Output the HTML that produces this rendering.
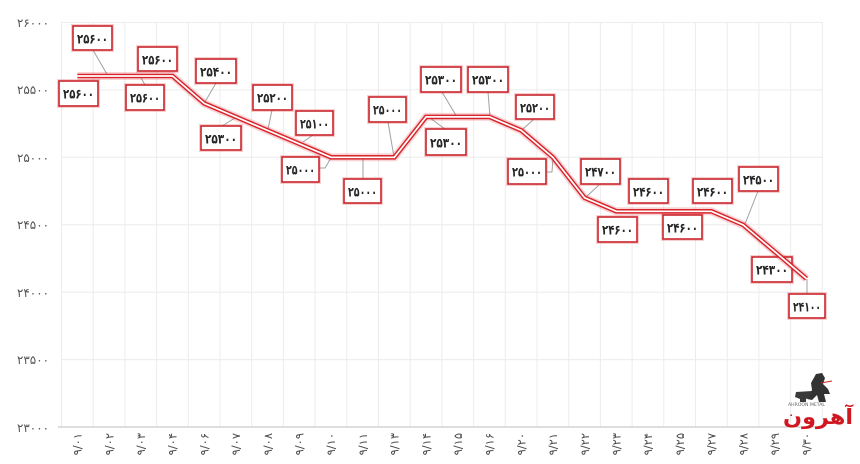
<!DOCTYPE html>
<html><head><meta charset="utf-8">
<style>
html,body{margin:0;padding:0;background:#fff;}
svg{display:block;}
.yl{font-family:"DejaVu Sans","Liberation Sans",sans-serif;font-size:12px;fill:#555;}
.xl{font-family:"DejaVu Sans","Liberation Sans",sans-serif;font-size:11.5px;fill:#4a4a4a;}
.bt{font-family:"DejaVu Sans","Liberation Sans",sans-serif;font-size:13.5px;font-weight:bold;fill:#262626;}
.bx{fill:#fff;stroke:#c8262c;stroke-width:1.6;}
.bg{fill:none;stroke:#e04048;stroke-opacity:0.25;stroke-width:4;}
.ld{stroke:#a0a0a0;stroke-width:1;fill:none;}
</style></head>
<body>
<svg width="860" height="464" viewBox="0 0 860 464" xmlns="http://www.w3.org/2000/svg">
<g stroke="#ececec" stroke-width="1">
<line x1="61.5" y1="22.5" x2="822.5" y2="22.5"/>
<line x1="61.5" y1="89.9" x2="822.5" y2="89.9"/>
<line x1="61.5" y1="157.3" x2="822.5" y2="157.3"/>
<line x1="61.5" y1="224.8" x2="822.5" y2="224.8"/>
<line x1="61.5" y1="292.2" x2="822.5" y2="292.2"/>
<line x1="61.5" y1="359.6" x2="822.5" y2="359.6"/>
<line x1="61.5" y1="22" x2="61.5" y2="427"/>
<line x1="93.2" y1="22" x2="93.2" y2="427"/>
<line x1="124.9" y1="22" x2="124.9" y2="427"/>
<line x1="156.6" y1="22" x2="156.6" y2="427"/>
<line x1="188.3" y1="22" x2="188.3" y2="427"/>
<line x1="220" y1="22" x2="220" y2="427"/>
<line x1="251.7" y1="22" x2="251.7" y2="427"/>
<line x1="283.4" y1="22" x2="283.4" y2="427"/>
<line x1="315.1" y1="22" x2="315.1" y2="427"/>
<line x1="346.8" y1="22" x2="346.8" y2="427"/>
<line x1="378.5" y1="22" x2="378.5" y2="427"/>
<line x1="410.2" y1="22" x2="410.2" y2="427"/>
<line x1="441.9" y1="22" x2="441.9" y2="427"/>
<line x1="473.6" y1="22" x2="473.6" y2="427"/>
<line x1="505.3" y1="22" x2="505.3" y2="427"/>
<line x1="537" y1="22" x2="537" y2="427"/>
<line x1="568.7" y1="22" x2="568.7" y2="427"/>
<line x1="600.4" y1="22" x2="600.4" y2="427"/>
<line x1="632.1" y1="22" x2="632.1" y2="427"/>
<line x1="663.8" y1="22" x2="663.8" y2="427"/>
<line x1="695.5" y1="22" x2="695.5" y2="427"/>
<line x1="727.2" y1="22" x2="727.2" y2="427"/>
<line x1="758.9" y1="22" x2="758.9" y2="427"/>
<line x1="790.6" y1="22" x2="790.6" y2="427"/>
<line x1="822.3" y1="22" x2="822.3" y2="427"/>
</g>
<line x1="58" y1="427" x2="822.5" y2="427" stroke="#d4d4d4" stroke-width="1.5"/>

<g class="yl" text-anchor="end">
<text x="49" y="27" textLength="32" lengthAdjust="spacingAndGlyphs">۲۶۰۰۰</text>
<text x="49" y="94" textLength="32" lengthAdjust="spacingAndGlyphs">۲۵۵۰۰</text>
<text x="49" y="162" textLength="32" lengthAdjust="spacingAndGlyphs">۲۵۰۰۰</text>
<text x="49" y="229" textLength="32" lengthAdjust="spacingAndGlyphs">۲۴۵۰۰</text>
<text x="49" y="297" textLength="32" lengthAdjust="spacingAndGlyphs">۲۴۰۰۰</text>
<text x="49" y="364" textLength="32" lengthAdjust="spacingAndGlyphs">۲۳۵۰۰</text>
<text x="49" y="432" textLength="32" lengthAdjust="spacingAndGlyphs">۲۳۰۰۰</text>
</g>

<g class="xl" text-anchor="end">
<text transform="translate(81.6,433) rotate(-90)">۹/۰۱</text>
<text transform="translate(113.3,433) rotate(-90)">۹/۰۲</text>
<text transform="translate(145,433) rotate(-90)">۹/۰۳</text>
<text transform="translate(176.7,433) rotate(-90)">۹/۰۴</text>
<text transform="translate(208.4,433) rotate(-90)">۹/۰۶</text>
<text transform="translate(240.1,433) rotate(-90)">۹/۰۷</text>
<text transform="translate(271.8,433) rotate(-90)">۹/۰۸</text>
<text transform="translate(303.5,433) rotate(-90)">۹/۰۹</text>
<text transform="translate(335.2,433) rotate(-90)">۹/۱۰</text>
<text transform="translate(366.9,433) rotate(-90)">۹/۱۱</text>
<text transform="translate(398.6,433) rotate(-90)">۹/۱۳</text>
<text transform="translate(430.3,433) rotate(-90)">۹/۱۴</text>
<text transform="translate(462,433) rotate(-90)">۹/۱۵</text>
<text transform="translate(493.7,433) rotate(-90)">۹/۱۶</text>
<text transform="translate(525.4,433) rotate(-90)">۹/۲۰</text>
<text transform="translate(557.1,433) rotate(-90)">۹/۲۱</text>
<text transform="translate(588.8,433) rotate(-90)">۹/۲۲</text>
<text transform="translate(620.5,433) rotate(-90)">۹/۲۳</text>
<text transform="translate(652.2,433) rotate(-90)">۹/۲۴</text>
<text transform="translate(683.9,433) rotate(-90)">۹/۲۵</text>
<text transform="translate(715.6,433) rotate(-90)">۹/۲۷</text>
<text transform="translate(747.3,433) rotate(-90)">۹/۲۸</text>
<text transform="translate(779,433) rotate(-90)">۹/۲۹</text>
<text transform="translate(810.7,433) rotate(-90)">۹/۳۰</text>
</g>

<g class="ld">
<line x1="93" y1="50" x2="108" y2="76"/>
<line x1="140" y1="76" x2="145" y2="85"/>
<line x1="205" y1="102" x2="216" y2="83"/>
<line x1="222" y1="126" x2="235" y2="118"/>
<line x1="268" y1="129" x2="272" y2="110"/>
<line x1="303" y1="142" x2="313" y2="135"/>
<polyline points="319,168 325,168 331,158"/>
<line x1="363" y1="158" x2="363" y2="179"/>
<line x1="388" y1="122" x2="394" y2="157"/>
<line x1="442" y1="92" x2="457" y2="117"/>
<line x1="430" y1="118" x2="445" y2="129"/>
<line x1="488" y1="92" x2="490" y2="117"/>
<line x1="534" y1="119" x2="522" y2="130"/>
<polyline points="546,172 552,172 553,158"/>
<line x1="599" y1="185" x2="586" y2="197"/>
<line x1="758" y1="191" x2="745" y2="224"/>
<line x1="807" y1="279" x2="807" y2="294"/>
</g>

<g>
<rect class="bg" x="73" y="26" width="39" height="24"/><rect class="bx" x="73" y="26" width="39" height="24"/><text class="bt" x="77" y="43.5" textLength="31" lengthAdjust="spacingAndGlyphs">۲۵۶۰۰</text>
<rect class="bg" x="59" y="81" width="39" height="25"/><rect class="bx" x="59" y="81" width="39" height="25"/><text class="bt" x="63" y="98.5" textLength="31" lengthAdjust="spacingAndGlyphs">۲۵۶۰۰</text>
<rect class="bg" x="138" y="47" width="39" height="24"/><rect class="bx" x="138" y="47" width="39" height="24"/><text class="bt" x="142" y="64.5" textLength="31" lengthAdjust="spacingAndGlyphs">۲۵۶۰۰</text>
<rect class="bg" x="126" y="85" width="38" height="25"/><rect class="bx" x="126" y="85" width="38" height="25"/><text class="bt" x="130" y="102.5" textLength="30" lengthAdjust="spacingAndGlyphs">۲۵۶۰۰</text>
<rect class="bg" x="196" y="59" width="40" height="24"/><rect class="bx" x="196" y="59" width="40" height="24"/><text class="bt" x="200" y="76.5" textLength="32" lengthAdjust="spacingAndGlyphs">۲۵۴۰۰</text>
<rect class="bg" x="201" y="126" width="40" height="24"/><rect class="bx" x="201" y="126" width="40" height="24"/><text class="bt" x="205" y="143.5" textLength="32" lengthAdjust="spacingAndGlyphs">۲۵۳۰۰</text>
<rect class="bg" x="253" y="85" width="39" height="25"/><rect class="bx" x="253" y="85" width="39" height="25"/><text class="bt" x="257" y="102.5" textLength="31" lengthAdjust="spacingAndGlyphs">۲۵۲۰۰</text>
<rect class="bg" x="296" y="111" width="37" height="24"/><rect class="bx" x="296" y="111" width="37" height="24"/><text class="bt" x="300" y="128.5" textLength="29" lengthAdjust="spacingAndGlyphs">۲۵۱۰۰</text>
<rect class="bg" x="282" y="157" width="37" height="25"/><rect class="bx" x="282" y="157" width="37" height="25"/><text class="bt" x="286" y="174.5" textLength="29" lengthAdjust="spacingAndGlyphs">۲۵۰۰۰</text>
<rect class="bg" x="344" y="179" width="37" height="24"/><rect class="bx" x="344" y="179" width="37" height="24"/><text class="bt" x="348" y="196.5" textLength="29" lengthAdjust="spacingAndGlyphs">۲۵۰۰۰</text>
<rect class="bg" x="369" y="97" width="37" height="25"/><rect class="bx" x="369" y="97" width="37" height="25"/><text class="bt" x="373" y="114.5" textLength="29" lengthAdjust="spacingAndGlyphs">۲۵۰۰۰</text>
<rect class="bg" x="421" y="67" width="40" height="25"/><rect class="bx" x="421" y="67" width="40" height="25"/><text class="bt" x="425" y="84.5" textLength="32" lengthAdjust="spacingAndGlyphs">۲۵۳۰۰</text>
<rect class="bg" x="426" y="129" width="40" height="26"/><rect class="bx" x="426" y="129" width="40" height="26"/><text class="bt" x="430" y="147.5" textLength="32" lengthAdjust="spacingAndGlyphs">۲۵۳۰۰</text>
<rect class="bg" x="468" y="67" width="40" height="25"/><rect class="bx" x="468" y="67" width="40" height="25"/><text class="bt" x="472" y="84.5" textLength="32" lengthAdjust="spacingAndGlyphs">۲۵۳۰۰</text>
<rect class="bg" x="516" y="95" width="38" height="24"/><rect class="bx" x="516" y="95" width="38" height="24"/><text class="bt" x="520" y="112.5" textLength="30" lengthAdjust="spacingAndGlyphs">۲۵۲۰۰</text>
<rect class="bg" x="508" y="159" width="38" height="25"/><rect class="bx" x="508" y="159" width="38" height="25"/><text class="bt" x="512" y="176.5" textLength="30" lengthAdjust="spacingAndGlyphs">۲۵۰۰۰</text>
<rect class="bg" x="581" y="159" width="39" height="25"/><rect class="bx" x="581" y="159" width="39" height="25"/><text class="bt" x="585" y="176.5" textLength="31" lengthAdjust="spacingAndGlyphs">۲۴۷۰۰</text>
<rect class="bg" x="629" y="179" width="39" height="24"/><rect class="bx" x="629" y="179" width="39" height="24"/><text class="bt" x="633" y="196.5" textLength="31" lengthAdjust="spacingAndGlyphs">۲۴۶۰۰</text>
<rect class="bg" x="598" y="217" width="39" height="25"/><rect class="bx" x="598" y="217" width="39" height="25"/><text class="bt" x="602" y="234.5" textLength="31" lengthAdjust="spacingAndGlyphs">۲۴۶۰۰</text>
<rect class="bg" x="663" y="215" width="39" height="24"/><rect class="bx" x="663" y="215" width="39" height="24"/><text class="bt" x="667" y="232.5" textLength="31" lengthAdjust="spacingAndGlyphs">۲۴۶۰۰</text>
<rect class="bg" x="693" y="179" width="39" height="24"/><rect class="bx" x="693" y="179" width="39" height="24"/><text class="bt" x="697" y="196.5" textLength="31" lengthAdjust="spacingAndGlyphs">۲۴۶۰۰</text>
<rect class="bg" x="739" y="167" width="39" height="24"/><rect class="bx" x="739" y="167" width="39" height="24"/><text class="bt" x="743" y="184.5" textLength="31" lengthAdjust="spacingAndGlyphs">۲۴۵۰۰</text>
<rect class="bg" x="752" y="257" width="40" height="25"/><rect class="bx" x="752" y="257" width="40" height="25"/><text class="bt" x="756" y="274.5" textLength="32" lengthAdjust="spacingAndGlyphs">۲۴۳۰۰</text>
<rect class="bg" x="789" y="294" width="36" height="24"/><rect class="bx" x="789" y="294" width="36" height="24"/><text class="bt" x="793" y="311.5" textLength="28" lengthAdjust="spacingAndGlyphs">۲۴۱۰۰</text>
</g>

<g fill="none" stroke-linejoin="miter" stroke-linecap="butt">
<polyline stroke="#e02a30" stroke-opacity="0.2" stroke-width="8" points="77.4,76 109,76 140.8,76 172.5,76 204.2,103.4 235.9,116.9 267.6,130.4 299.3,143.8 331,157.3 362.7,157.3 394.4,157.3 426.1,116.9 457.8,116.9 489.5,116.9 521.2,130.4 552.9,157.3 584.6,197.8 616.3,211.3 648,211.3 679.7,211.3 711.4,211.3 743.1,224.8 774.8,251.7 806.5,278.7"/>
<polyline stroke="#d8242a" stroke-width="4.6" points="77.4,76 109,76 140.8,76 172.5,76 204.2,103.4 235.9,116.9 267.6,130.4 299.3,143.8 331,157.3 362.7,157.3 394.4,157.3 426.1,116.9 457.8,116.9 489.5,116.9 521.2,130.4 552.9,157.3 584.6,197.8 616.3,211.3 648,211.3 679.7,211.3 711.4,211.3 743.1,224.8 774.8,251.7 806.5,278.7"/>
<polyline stroke="#ffffff" stroke-width="1.7" points="77.4,76 109,76 140.8,76 172.5,76 204.2,103.4 235.9,116.9 267.6,130.4 299.3,143.8 331,157.3 362.7,157.3 394.4,157.3 426.1,116.9 457.8,116.9 489.5,116.9 521.2,130.4 552.9,157.3 584.6,197.8 616.3,211.3 648,211.3 679.7,211.3 711.4,211.3 743.1,224.8 774.8,251.7 806.5,278.7"/>
</g>

<g>
<path d="M816,374 L822,373 L825,378 L823,384 L828,389 L830,394 L824,394 L826,402 L819,402 L817,395 L812,400 L807,399 L812,390 L811,383 Z" fill="#333"/>
<path d="M796,392 L812,391 L810,397 L806,399 L806,402 L800,402 L800,399 L795,397 Z" fill="#3a3a3a"/>
<line x1="821" y1="383" x2="832" y2="381" stroke="#c22" stroke-width="1"/>
<text x="788" y="406" font-family="'DejaVu Sans',sans-serif" font-size="4.6" fill="#666">AHROON METAL</text>
<text x="818" y="424" text-anchor="middle" font-family="'DejaVu Sans',sans-serif" font-size="21" font-weight="bold" fill="#d0161e" textLength="70" lengthAdjust="spacingAndGlyphs">آهرون</text>
</g>
</svg>
</body></html>
